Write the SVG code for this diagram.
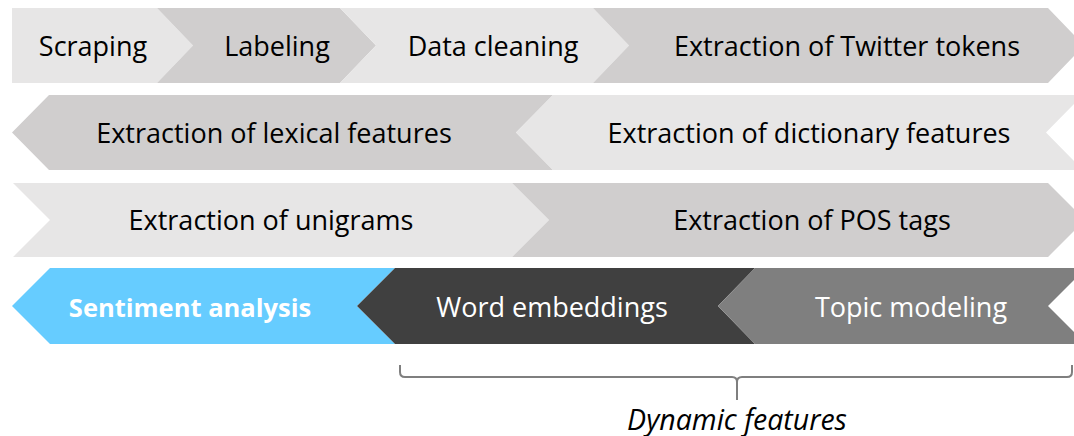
<svg xmlns="http://www.w3.org/2000/svg" width="1074" height="436" viewBox="0 0 1074 436">
<style>
.lt{fill:#e7e6e6}
.dk{fill:#d0cece}
.bl{fill:#66ccff}
.nv{fill:#404040}
.gr{fill:#7f7f7f}
text{font-family:"Open Sans","Liberation Sans",sans-serif;font-size:27px;text-anchor:middle}
.b{fill:#000}
.w{fill:#fff}
.bold{font-weight:bold;font-size:25.5px}
.it{font-style:italic;fill:#000;font-size:28.5px}
.br{fill:none;stroke:#7f7f7f;stroke-width:2}
</style>
<rect width="1074" height="436" fill="#fff"/>
<g id="scraping"><polygon class="lt" points="12,8 157,8 193,45.5 157,83 12,83"/><text class="b" x="93" y="56">Scraping</text></g>
<g id="labeling"><polygon class="dk" points="157,8 340,8 376,45.5 340,83 157,83 193,45.5"/><text class="b" x="277" y="56">Labeling</text></g>
<g id="data-cleaning"><polygon class="lt" points="340,8 593,8 629,45.5 593,83 340,83 376,45.5"/><text class="b" x="493" y="56">Data cleaning</text></g>
<g id="twitter-tokens"><polygon class="dk" points="593,8 1048,8 1084,45.5 1048,83 593,83 629,45.5"/><text class="b" x="847" y="56">Extraction of Twitter tokens</text></g>
<g id="lexical"><polygon class="dk" points="12,132.5 49,95 553,95 516,132.5 553,170 49,170"/><text class="b" x="274" y="143">Extraction of lexical features</text></g>
<g id="dictionary"><polygon class="lt" points="516,132.5 553,95 1083,95 1046,132.5 1083,170 553,170"/><text class="b" x="809" y="143">Extraction of dictionary features</text></g>
<g id="unigrams"><polygon class="lt" points="13,183 512,183 549,220 512,257 13,257 50,220"/><text class="b" x="271" y="230">Extraction of unigrams</text></g>
<g id="pos-tags"><polygon class="dk" points="512,183 1048,183 1085,220 1048,257 512,257 549,220"/><text class="b" x="812" y="230">Extraction of POS tags</text></g>
<g id="sentiment"><polygon class="bl" points="12,306 50,268 395,268 357,306 395,344 50,344"/><text class="w bold" x="190" y="317">Sentiment analysis</text></g>
<g id="word-embeddings"><polygon class="nv" points="357,306 395,268 755,268 718,306 755,344 395,344"/><text class="w" x="552" y="317">Word embeddings</text></g>
<g id="topic-modeling"><polygon class="gr" points="718,306 755,268 1086,268 1048,306 1086,344 755,344"/><text class="w" x="911" y="317">Topic modeling</text></g>
<g id="connectors"><path class="br" d="M400,365 L400,372 Q400,377 405,377 L732,377 Q737,377 737,382 L737,400 M737,382 Q737,377 742,377 L1067,377 Q1072,377 1072,372 L1072,365"/></g>
<g id="dynamic-features"><text class="it" x="737" y="430">Dynamic features</text></g>
</svg>
